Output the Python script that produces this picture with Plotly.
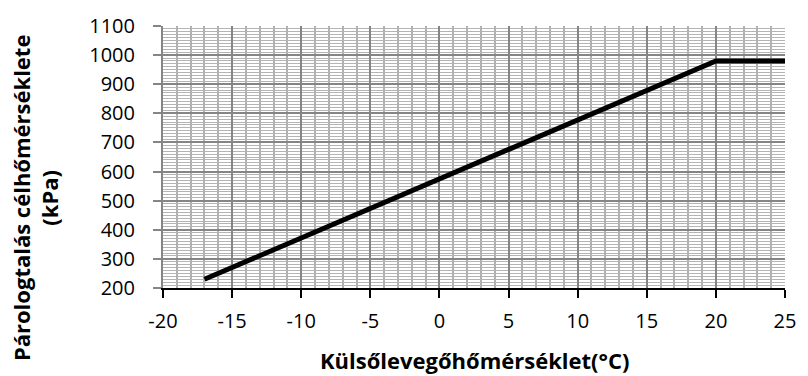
import plotly.graph_objects as go

# Outdoor temperature (°C) and evaporation target pressure (kPa)
temp_c = [-17, 20, 25]
target_kpa = [230, 980, 980]

x_ticks = [-20, -15, -10, -5, 0, 5, 10, 15, 20, 25]
y_ticks = [200, 300, 400, 500, 600, 700, 800, 900, 1000, 1100]

x_title = "Külsőlevegőhőmérséklet(°C)"
y_title = "Párologtalás célhőmérséklete<br>(kPa)"

FONT = "Open Sans"

fig = go.Figure()
fig.add_trace(go.Scatter(
    x=temp_c, y=target_kpa, mode="lines",
    line=dict(color="black", width=5),
    showlegend=False, hoverinfo="skip",
))

fig.update_layout(
    width=808, height=376,
    margin=dict(l=163, r=15, t=19, b=88),
    paper_bgcolor="white", plot_bgcolor="white",
    font=dict(family=FONT, size=20, color="black"),
    xaxis=dict(
        range=[-20, 25], tickvals=x_ticks, ticktext=[str(v) for v in x_ticks],
        showgrid=True, gridcolor="#858585", gridwidth=1.5,
        showline=True, linecolor="#000000", linewidth=1.5,
        ticks="outside", ticklen=8, tickcolor="#000000", tickwidth=1.5,
        ticklabelstandoff=6,
        minor=dict(dtick=1, showgrid=True, gridcolor="#b0b0b0", gridwidth=1.5, ticks=""),
        zeroline=False, fixedrange=True,
        tickfont=dict(family=FONT, size=20),
    ),
    yaxis=dict(
        range=[200, 1100], tickvals=y_ticks, ticktext=[str(v) for v in y_ticks],
        showgrid=True, gridcolor="#858585", gridwidth=1.5,
        showline=True, linecolor="#858585", linewidth=2,
        ticks="outside", ticklen=8, tickcolor="#858585", tickwidth=1.5,
        ticklabelstandoff=14,
        minor=dict(dtick=10, showgrid=True, gridcolor="#b4b4b4", gridwidth=1, ticks=""),
        zeroline=False, fixedrange=True,
        tickfont=dict(family=FONT, size=20),
    ),
)

fig.add_annotation(
    text=f"<b>{x_title}</b>", xref="paper", yref="paper",
    x=0.5, y=-0.275, showarrow=False, xanchor="center", yanchor="middle",
    font=dict(family=FONT, size=22, color="black"),
)
fig.add_annotation(
    text=f"<b>{y_title}</b>", xref="paper", yref="paper",
    x=-0.205, y=0.345, showarrow=False, xanchor="center", yanchor="middle",
    textangle=-90, font=dict(family=FONT, size=22, color="black"),
)

fig.write_html("out.html")
